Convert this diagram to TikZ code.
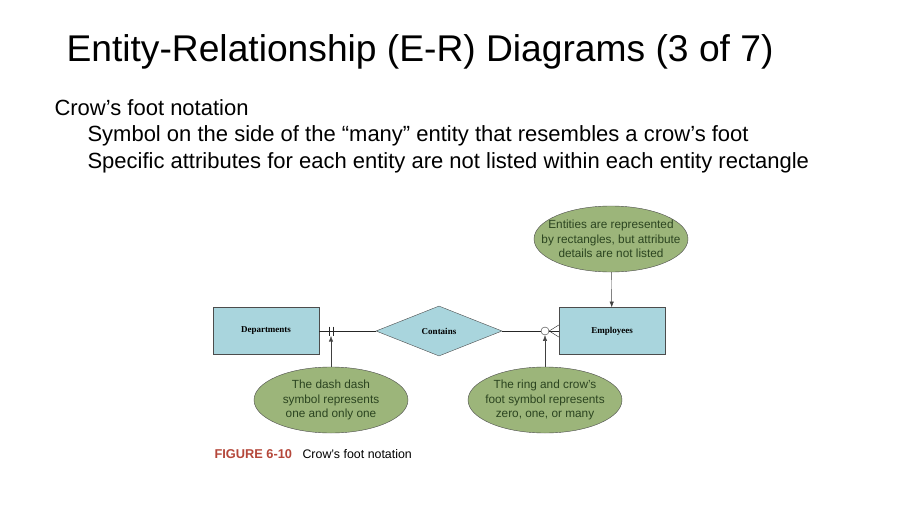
\documentclass[tikz,border=0pt]{standalone}
\usepackage{fontspec}
\setmainfont{Liberation Sans}
\newfontfamily\figfont{Liberation Serif}
\usepackage{xcolor}
\usetikzlibrary{arrows.meta,positioning,shapes.geometric}
\definecolor{boxblue}{HTML}{A9D5DD}
\definecolor{notegreen}{HTML}{9CB57A}
\definecolor{notetext}{HTML}{2B4420}
\definecolor{figred}{HTML}{B5473A}

\begin{document}
\begin{tikzpicture}[
  x=1pt, y=-1pt,
  entity/.style={draw=black!70, fill=boxblue, minimum width=106pt, minimum height=47pt, font=\figfont\bfseries\fontsize{9}{10}\selectfont},
  relation/.style={draw=black!70, fill=boxblue, diamond, aspect=2.5, minimum width=126pt, minimum height=50pt, inner sep=0pt, font=\figfont\bfseries\fontsize{9}{10}\selectfont},
  note/.style={draw=black!70, fill=notegreen, ellipse, minimum width=154pt, minimum height=66pt, inner xsep=-17pt, inner ysep=1pt, align=center, text=notetext, font=\fontsize{11.8}{14.5}\selectfont},
  pointer/.style={-{Latex[length=2mm,width=1.5mm]}, black!75},
  link/.style={black!85}
]
\useasboundingbox[fill=white] (0,0) rectangle (900,506);
% slide text
\node[anchor=west, font=\fontsize{37.2}{42}\selectfont] (title) at (63,52) {Entity-Relationship (E-R) Diagrams (3 of 7)};
\node[anchor=west, font=\fontsize{22}{25}\selectfont] (head) at (51,108) {Crow’s foot notation};
\node[anchor=west, font=\fontsize{22}{25}\selectfont] (itema) at (84,136) {Symbol on the side of the “many” entity that resembles a crow’s foot};
\node[anchor=west, font=\fontsize{22}{25}\selectfont] (itemb) at (84,163) {Specific attributes for each entity are not listed within each entity rectangle};
% diagram
\node[entity] (dept) at (266,331) {Departments};
\node[relation] (contains) at (439,331) {Contains};
\node[entity] (emp) at (612,331) {Employees};
\node[note] (noterect) at (611,239) {Entities are represented\\by rectangles, but attribute\\details are not listed};
\node[note] (notedash) at (331,400) {The dash dash\\symbol represents\\one and only one};
\node[note] (notering) at (545,400) {The ring and crow’s\\foot symbol represents\\zero, one, or many};
\node[draw=black!80, fill=white, circle, minimum size=8pt, inner sep=0pt] (ring) at (545,331) {};
\coordinate (bars) at (331,331);
% connectors
\draw[link] (dept) -- (contains);
\draw[link] ([xshift=-2pt]bars) ++(0,-4.5) -- ++(0,9);
\draw[link] ([xshift=2pt]bars) ++(0,-4.5) -- ++(0,9);
\draw[link] (contains) -- (ring);
\draw[link] (ring) -- (emp);
\draw[link] (ring.east) -- ([yshift=-6pt]emp.west);
\draw[link] (ring.east) -- ([yshift=6pt]emp.west);
\draw[pointer] (notedash) -- ([yshift=-5pt]bars);
\draw[pointer] (noterect) -- (emp);
\draw[pointer] (notering) -- (ring);
% caption
\node[anchor=west, font=\bfseries\fontsize{12.8}{15}\selectfont, text=figred] (figno) at (211,454) {FIGURE 6-10};
\node[anchor=west, font=\fontsize{12.4}{15}\selectfont] (figcap) at (299,454) {Crow’s foot notation};
\end{tikzpicture}
\end{document}
